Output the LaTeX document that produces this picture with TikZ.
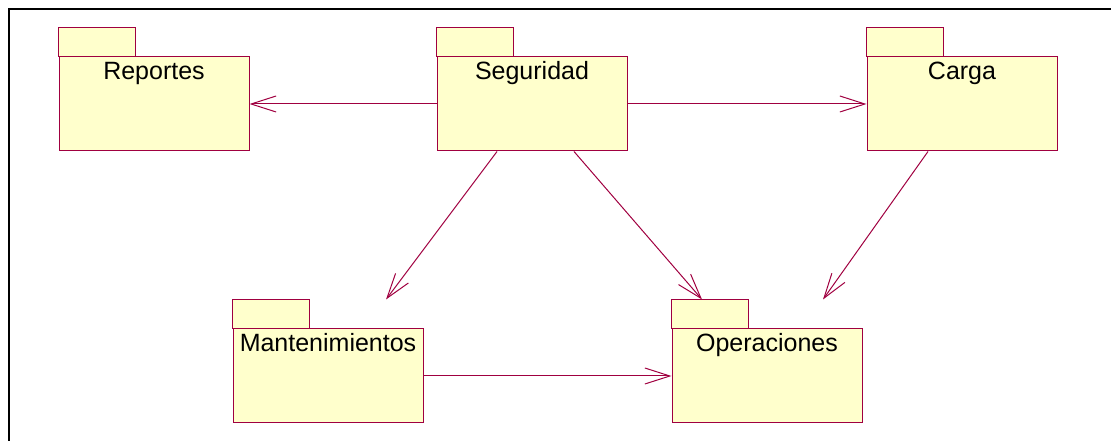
\documentclass[tikz,border=0pt]{standalone}
\usepackage{fontspec}
\setmainfont{Liberation Sans}
\usetikzlibrary{arrows.meta}
\definecolor{pkgred}{RGB}{160,0,64}
\definecolor{pkgfill}{RGB}{255,255,204}
\tikzset{
  pkg/.style={rectangle, draw=pkgred, fill=pkgfill, line width=1pt,
    minimum width=190pt, minimum height=94pt, inner sep=0pt},
  pkgtab/.style={draw=pkgred, fill=pkgfill, line width=1pt},
  pkgtext/.style={anchor=base, inner sep=0pt, font=\fontsize{25}{30}\selectfont},
  dep/.style={draw=pkgred, line width=1pt, -{Straight Barb[length=25pt,width=16pt]}}
}
\newcommand{\umlpkg}[3]{%
  \node[pkg] (#1) at (#2) {};
  \draw[pkgtab] (#1.north west) rectangle ++(77,29);
  \node[pkgtext] (#1T) at ([yshift=-23pt]#1.north) {#3};
}

\begin{document}
\begin{tikzpicture}[x=1pt,y=1pt]
   \useasboundingbox (0,0) rectangle (1111,441);
   \draw[line width=2pt] (9,0) -- (9,432) -- (1111,432);
   \umlpkg{rep}{154,337}{Reportes}
   \umlpkg{seg}{532,337}{Seguridad}
   \umlpkg{car}{962,337}{Carga}
   \umlpkg{man}{328,65}{Mantenimientos}
   \umlpkg{ope}{767,65}{Operaciones}
   \draw[dep] (seg.west) -- (rep.east);
   \draw[dep] (seg.east) -- (car.west);
   \draw[dep] ([xshift=-35pt]seg.south) -- ([shift={(58pt,29pt)}]man.north);
   \draw[dep] ([xshift=42pt]seg.south) -- ([shift={(-65pt,29pt)}]ope.north);
   \draw[dep] ([xshift=-34pt]car.south) -- ([shift={(56pt,29pt)}]ope.north);
   \draw[dep] (man.east) -- (ope.west);
\end{tikzpicture}
\end{document}
